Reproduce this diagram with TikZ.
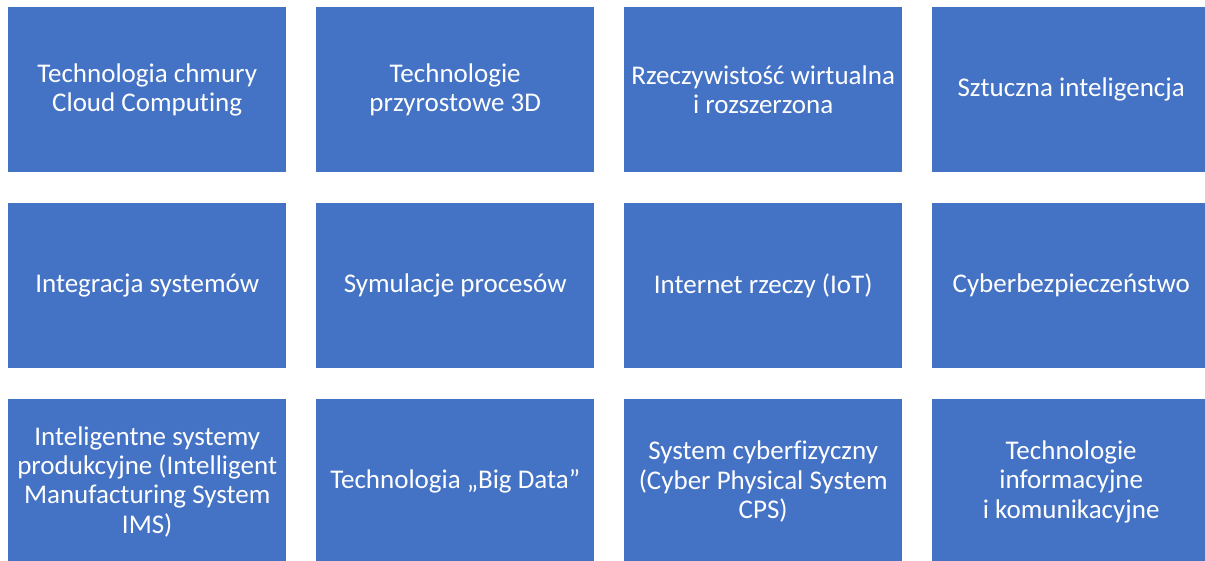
\documentclass[tikz,border=0pt]{standalone}
\usepackage{fontspec}
\setmainfont[Ligatures={NoCommon}]{Carlito}
\definecolor{boxblue}{HTML}{4472C4}
\begin{document}
\begin{tikzpicture}[x=1pt,y=-1pt,
  tile/.style={fill=boxblue, draw=none, minimum width=278pt, minimum height=165pt,
    anchor=north west, inner sep=0pt, text=white, align=center,
    font=\fontsize{27}{29.4}\selectfont}]
\useasboundingbox[fill=white] (0,0) rectangle (1205,560);
\begin{scope}
\clip (0,0) rectangle (1205,560);
\node[tile] (a1) at (8,7) {Technologia chmury\\Cloud Computing};
\node[tile] (a2) at (316,7) {Technologie\\przyrostowe 3D};
\node[tile] (a3) at (624,7) {Rzeczywistość wirtualna\\i rozszerzona};
\node[tile] (a4) at (932,7) {Sztuczna inteligencja};
\node[tile] (b1) at (8,203) {Integracja systemów};
\node[tile] (b2) at (316,203) {Symulacje procesów};
\node[tile] (b3) at (624,203) {Internet rzeczy (IoT)};
\node[tile] (b4) at (932,203) {Cyberbezpieczeństwo};
\node[tile] (c1) at (8,399) {Inteligentne systemy\\produkcyjne (Intelligent\\Manufacturing System\\IMS)};
\node[tile] (c2) at (316,399) {Technologia „Big Data”};
\node[tile] (c3) at (624,399) {System cyberfizyczny\\(Cyber Physical System\\CPS)};
\node[tile] (c4) at (932,399) {Technologie\\informacyjne\\i komunikacyjne};
\end{scope}
\end{tikzpicture}
\end{document}
